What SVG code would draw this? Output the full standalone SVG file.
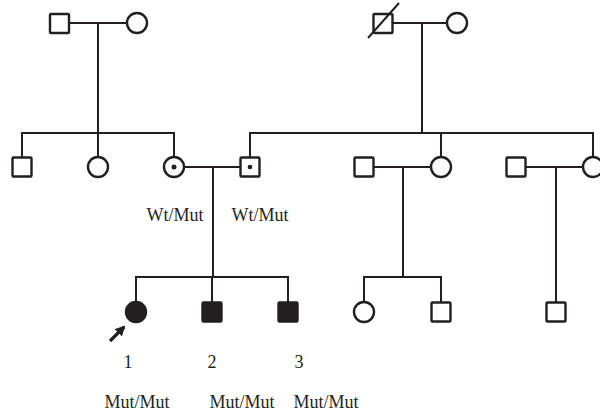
<svg xmlns="http://www.w3.org/2000/svg" width="600" height="414" viewBox="0 0 600 414">
  <style>
    .ln { fill: none; stroke: #231f20; stroke-width: 2; }
    .m { fill: #fff; stroke: #231f20; stroke-width: 2.4; }
    .f { fill: #231f20; stroke: #231f20; stroke-width: 2.4; }
    .t { font-family: "Liberation Serif", "Times New Roman", serif; font-size: 18px; fill: #231f20; }
  </style>
  <defs>
    <marker id="ah" viewBox="0 0 10 10" refX="8" refY="5" markerWidth="3.2" markerHeight="3.2" orient="auto" markerUnits="strokeWidth">
      <path d="M0,0 L10,5 L0,10 z" fill="#231f20"/>
    </marker>
  </defs>

  <!-- connectors: marriage, descent and sibship lines -->
  <g id="connectors" class="ln">
    <path d="M69,23 H127 M98,23 V133"/>
    <path d="M393,23 H447 M422,23 V133"/>
    <path d="M22,157 V133 H174 V157 M98,133 V157"/>
    <path d="M250,157 V133 H593 V157 M441,133 V157"/>
    <path d="M184,167 H240.5 M213,167 V277"/>
    <path d="M373.5,167 H431 M403,167 V277"/>
    <path d="M525.5,167 H583 M556,167 V302.5"/>
    <path d="M136,302 V277 H288 V302.5 M212,277 V302.5"/>
    <path d="M364,302 V277 H441 V302.5"/>
  </g>

  <!-- generation I -->
  <g id="I-1"><rect class="m" x="50" y="14" width="19" height="19" rx="1"/></g>
  <g id="I-2"><circle class="m" cx="137" cy="23" r="10"/></g>
  <g id="I-3">
    <rect class="m" x="373.5" y="14" width="19" height="19" rx="1"/>
    <line class="ln" x1="368" y1="38" x2="399" y2="3"/>
  </g>
  <g id="I-4"><circle class="m" cx="457" cy="23" r="10"/></g>

  <!-- generation II -->
  <g id="II-1"><rect class="m" x="12.5" y="157.5" width="19" height="19" rx="1"/></g>
  <g id="II-2"><circle class="m" cx="98" cy="167" r="10"/></g>
  <g id="II-3">
    <circle class="m" cx="174" cy="167" r="10"/>
    <circle cx="174" cy="167" r="2.5" fill="#231f20"/>
  </g>
  <g id="II-4">
    <rect class="m" x="240.5" y="157.5" width="19" height="19" rx="1"/>
    <circle cx="250" cy="167" r="2.3" fill="#231f20"/>
  </g>
  <g id="II-5"><rect class="m" x="354.5" y="157.5" width="19" height="19" rx="1"/></g>
  <g id="II-6"><circle class="m" cx="441" cy="167" r="10"/></g>
  <g id="II-7"><rect class="m" x="506.5" y="157.5" width="19" height="19" rx="1"/></g>
  <g id="II-8"><circle class="m" cx="593" cy="167" r="10"/></g>

  <g id="carrier-labels">
    <text class="t" x="175" y="221" text-anchor="middle">Wt/Mut</text>
    <text class="t" x="260" y="221" text-anchor="middle">Wt/Mut</text>
  </g>

  <!-- generation III -->
  <g id="III-1">
    <circle class="f" cx="136" cy="312" r="10"/>
    <line x1="110" y1="341" x2="124" y2="327" stroke="#231f20" stroke-width="3.2" marker-end="url(#ah)"/>
    <text class="t" x="128" y="368" text-anchor="middle">1</text>
    <text class="t" x="137" y="408" text-anchor="middle">Mut/Mut</text>
  </g>
  <g id="III-2">
    <rect class="f" x="202.5" y="302.5" width="19" height="19" rx="1"/>
    <text class="t" x="212" y="368" text-anchor="middle">2</text>
    <text class="t" x="242" y="408" text-anchor="middle">Mut/Mut</text>
  </g>
  <g id="III-3">
    <rect class="f" x="278.5" y="302.5" width="19" height="19" rx="1"/>
    <text class="t" x="299" y="368" text-anchor="middle">3</text>
    <text class="t" x="326" y="408" text-anchor="middle">Mut/Mut</text>
  </g>
  <g id="III-4"><circle class="m" cx="364" cy="312" r="10"/></g>
  <g id="III-5"><rect class="m" x="431.5" y="302.5" width="19" height="19" rx="1"/></g>
  <g id="III-6"><rect class="m" x="546.5" y="302.5" width="19" height="19" rx="1"/></g>
</svg>
